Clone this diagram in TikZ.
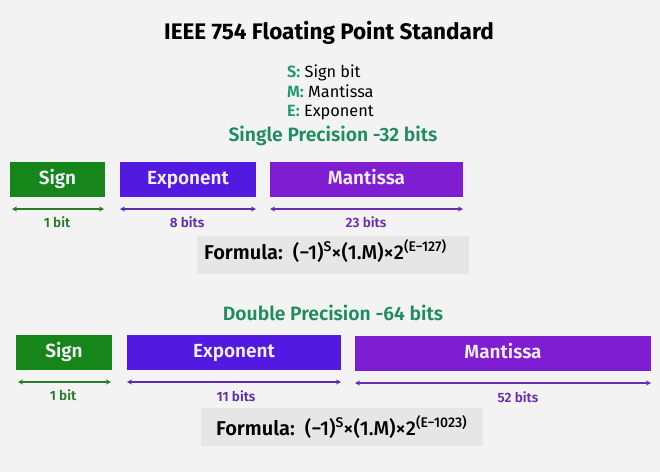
\documentclass[tikz,border=0pt]{standalone}
\usepackage{fontspec}
\setmainfont{Fira Sans}[BoldFont={Fira Sans SemiBold}]
\newfontfamily\titlefont{Fira Sans}[UprightFont={Fira Sans Bold}]
\newfontfamily\medfont{Fira Sans}[UprightFont={Fira Sans Medium},BoldFont={Fira Sans SemiBold}]
\usetikzlibrary{arrows.meta,calc}
\definecolor{bg}{HTML}{F3F3F3}
\definecolor{tgreen}{HTML}{1E8C5F}
\definecolor{lgreen}{HTML}{1E9A6A}
\definecolor{signfill}{HTML}{16861A}
\definecolor{expfill}{HTML}{5219E0}
\definecolor{manfill}{HTML}{7F1DD3}
\definecolor{agreen}{HTML}{2A7A2A}
\definecolor{aexp}{HTML}{5B2DA8}
\definecolor{aman}{HTML}{6A2DB0}
\definecolor{boxtext}{HTML}{F4EEF8}
\definecolor{fbox}{HTML}{E6E6E6}
\newcommand{\supx}[1]{\raisebox{8pt}{\fontsize{14}{16}\selectfont #1}}
\tikzset{
  fieldbox/.style={draw=none, inner sep=0pt, text=boxtext, text height=14pt, text depth=4pt, font=\fontsize{19}{22}\selectfont\bfseries},
  signbox/.style={fieldbox, fill=signfill},
  expbox/.style={fieldbox, fill=expfill},
  manbox/.style={fieldbox, fill=manfill},
  span/.style={{Stealth[length=5pt,width=5pt]}-{Stealth[length=5pt,width=5pt]}, line width=1.2pt},
  bitlabel/.style={font=\fontsize{13.5}{16}\selectfont\bfseries, inner sep=0pt},
  formulabox/.style={fill=fbox, inner sep=0pt},
  formulatext/.style={inner sep=0pt, anchor=base west, font=\fontsize{20}{24}\selectfont\medfont},
  heading/.style={text=tgreen, font=\fontsize{19.3}{23}\selectfont\bfseries, inner sep=0pt},
  legend/.style={font=\fontsize{16.3}{19}\selectfont, inner sep=0pt, anchor=base west},
}
\begin{document}
\begin{tikzpicture}[x=1pt,y=-1pt]
\useasboundingbox[fill=bg] (0,0) rectangle (660,472);

\node[font=\fontsize{22.5}{26}\selectfont\titlefont, inner sep=0pt] (title) at (329,33) {IEEE 754 Floating Point Standard};

\node[legend] (lS) at (287,77.5) {\textcolor{lgreen}{\textbf{S:}} Sign bit};
\node[legend] (lM) at (287,97) {\textcolor{lgreen}{\textbf{M:}} Mantissa};
\node[legend] (lE) at (287,116.5) {\textcolor{lgreen}{\textbf{E:}} Exponent};

\node[heading] (h1) at (333,136) {Single Precision -32 bits};

% single precision
\node[signbox, minimum width=95, minimum height=35] (s1) at (57.5,179.5) {Sign};
\node[expbox, minimum width=136, minimum height=35] (e1) at (188,179.5) {Exponent};
\node[manbox, minimum width=193, minimum height=35] (m1) at (366.5,179.5) {Mantissa};

\coordinate (s1l) at (12,209); \coordinate (s1r) at (104,209);
\coordinate (e1l) at (120,209); \coordinate (e1r) at (256,209);
\coordinate (m1l) at (270,209); \coordinate (m1r) at (463,209);
\draw[span, agreen] (s1l) -- (s1r);
\draw[span, aexp] (e1l) -- (e1r);
\draw[span, aman] (m1l) -- (m1r);
\node[bitlabel, text=agreen] (b1) at (57,222) {1 bit};
\node[bitlabel, text=aexp] (b2) at (187,222) {8 bits};
\node[bitlabel, text=aman] (b3) at (366,222) {23 bits};

\node[formulabox, minimum width=272, minimum height=38] (f1) at (333,255) {};
\node[formulatext] (ft1) at (204,259) {\textbf{Formula:}\ \ (−1)\supx{S}×(1.M)×2\supx{(E−127)}};

\node[heading] (h2) at (333,313) {Double Precision -64 bits};

% double precision
\node[signbox, minimum width=96, minimum height=35] (s2) at (64,352.5) {Sign};
\node[expbox, minimum width=214, minimum height=35] (e2) at (234,352.5) {Exponent};
\node[manbox, minimum width=296, minimum height=35] (m2) at (503,353) {Mantissa};

\coordinate (s2l) at (18,382); \coordinate (s2r) at (111,382);
\coordinate (e2l) at (127,382); \coordinate (e2r) at (341,382);
\coordinate (m2l) at (355,383); \coordinate (m2r) at (651,383);
\draw[span, agreen] (s2l) -- (s2r);
\draw[span, aexp] (e2l) -- (e2r);
\draw[span, aman] (m2l) -- (m2r);
\node[bitlabel, text=agreen] (b4) at (63,395) {1 bit};
\node[bitlabel, text=aexp] (b5) at (236,396) {11 bits};
\node[bitlabel, text=aman] (b6) at (518,397) {52 bits};

\node[formulabox, minimum width=282, minimum height=38] (f2) at (342,427) {};
\node[formulatext] (ft2) at (216,435) {\textbf{Formula:}\ \ (−1)\supx{S}×(1.M)×2\supx{(E−1023)}};
\end{tikzpicture}
\end{document}
